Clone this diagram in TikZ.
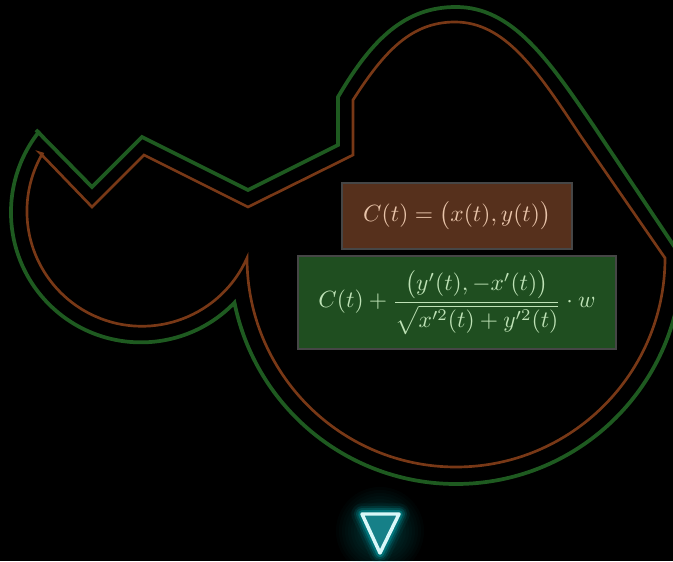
\documentclass[tikz,border=0pt]{standalone}
\usepackage{amsmath}
\usepackage{graphicx}
\definecolor{rimgreen}{RGB}{30,90,32}
\definecolor{rimbrown}{RGB}{120,56,22}
\definecolor{boxbrown}{RGB}{86,48,28}
\definecolor{boxgreen}{RGB}{31,78,32}
\definecolor{inkbrown}{RGB}{232,196,170}
\definecolor{inkgreen}{RGB}{190,226,182}
\definecolor{glow}{RGB}{0,200,210}
\definecolor{tealfill}{RGB}{22,128,136}
\newcommand{\eqtext}[1]{\scalebox{1.76}{#1}}

\begin{document}
\begin{tikzpicture}[x=.75pt,y=.75pt,
  rim/.style={line width=#1,line join=miter},
  eqbox/.style={draw=gray!55!black,line width=.9pt,inner sep=0pt}]
  \fill[black] (0,0) rectangle (673,561);
  \useasboundingbox (0,0) rectangle (673,561);

  \draw[rimgreen,rim=2.8pt] (36,431) -- (92,374) -- (142,424) -- (248,371) -- (338,416) -- (338,464)
    .. controls (372,522) and (405,554) .. (456,554)
    .. controls (512,554) and (548,502) .. (593,436) -- (682,303)
    arc[start angle=0,end angle=-168.6,radius=226]
    arc[start angle=-44,end angle=-218,radius=130] -- cycle;
  \draw[rimbrown,rim=2pt] (40,408) -- (92,354) -- (144,406) -- (248,354) -- (353,406) -- (353,461)
    .. controls (385,511) and (412,539) .. (455,539)
    .. controls (505,539) and (537,491) .. (580,426) -- (665,303)
    arc[start angle=0,end angle=-180,radius=209]
    arc[start angle=-24,end angle=-210,radius=115] -- cycle;

  \node[eqbox,fill=boxbrown,text=inkbrown,minimum width=172.5pt,minimum height=49.5pt] (param) at (457,345)
    {\eqtext{$C(t)=\big(x(t),y(t)\big)$}};
  \node[eqbox,fill=boxgreen,text=inkgreen,minimum width=238.5pt,minimum height=69.75pt] (offset) at (457,258.5)
    {\eqtext{$C(t)+\dfrac{\big(y'(t),-x'(t)\big)}{\sqrt{x'^2(t)+y'^2(t)}}\cdot w$}};

  \coordinate (tl) at (362,47);
  \coordinate (tr) at (399,47);
  \coordinate (tb) at (380,8);
  \foreach \r in {44,41,...,14}
    \fill[glow,opacity=.022] (380,30) circle[radius=\r];
  \foreach \w/\o in {16/.06,12/.1,9/.16,6/.28}
    \draw[glow,line width=\w pt,opacity=\o,line join=round] (tl) -- (tr) -- (tb) -- cycle;
  \draw[fill=tealfill,draw=white!85!glow,line width=2.6pt,line join=round] (tl) -- (tr) -- (tb) -- cycle;
\end{tikzpicture}
\end{document}
